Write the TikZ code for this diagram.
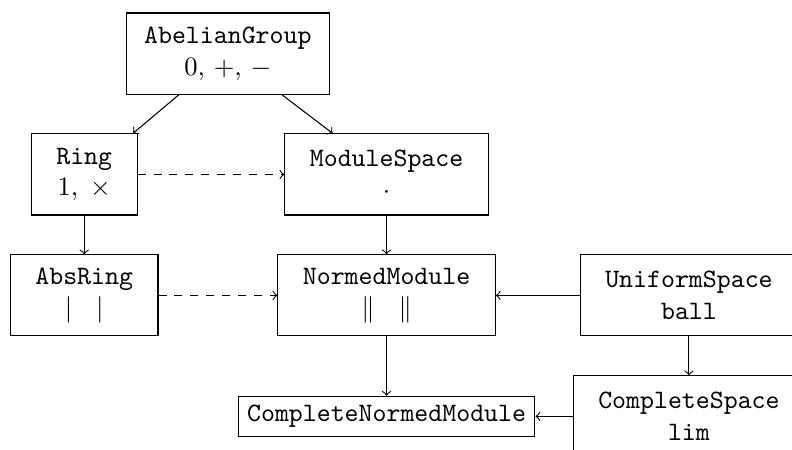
\documentclass[tikz,border=0pt]{standalone}
\usepackage{amsmath, amssymb}
\usepackage{tikz}
\usetikzlibrary{arrows}

\begin{document}
\begin{tikzpicture}[typebox/.style={draw, align=center, inner xsep=9.4pt, minimum height=30.5pt},
	extends/.style={->},
	uses/.style={->, dashed}]

	% visible area (right and bottom are cut)
	\path[use as bounding box, clip] (-1.114,-3.644) rectangle (9.363,2.308);

	% structures
	\node[typebox, inner xsep=6.7pt] (abelian) at (1.9,1.6) {\texttt{AbelianGroup}\\$0,\,+,\,-$};
	\node[typebox] (ring) at (0,0) {\texttt{Ring}\\$1,\;\times$};
	\node[typebox] (module) at (4,0) {\texttt{ModuleSpace}\\$\cdot$};
	\node[typebox] (absring) at (0,-1.6) {\texttt{AbsRing}\\$\lvert\hspace{9pt}\rvert$};
	\node[typebox] (normed) at (4,-1.6) {\texttt{NormedModule}\\$\|\hspace{9pt}\|$};
	\node[typebox] (uniform) at (8,-1.6) {\texttt{UniformSpace}\\\texttt{ball}};
	\node[draw] (cnormed) at (4,-3.2) {\texttt{CompleteNormedModule}};
	\node[typebox] (complete) at (8,-3.2) {\texttt{CompleteSpace}\\\texttt{lim}};

	% inheritance
	\draw[extends] (abelian) -- (ring);
	\draw[extends] (abelian) -- (module);
	\draw[extends] (ring) -- (absring);
	\draw[extends] (module) -- (normed);
	\draw[extends] (uniform) -- (normed);
	\draw[extends] (normed) -- (cnormed);
	\draw[extends] (uniform) -- (complete);
	\draw[extends] (complete) -- (cnormed);

	% parameters
	\draw[uses] (ring) -- (module);
	\draw[uses] (absring) -- (normed);

\end{tikzpicture}
\end{document}
